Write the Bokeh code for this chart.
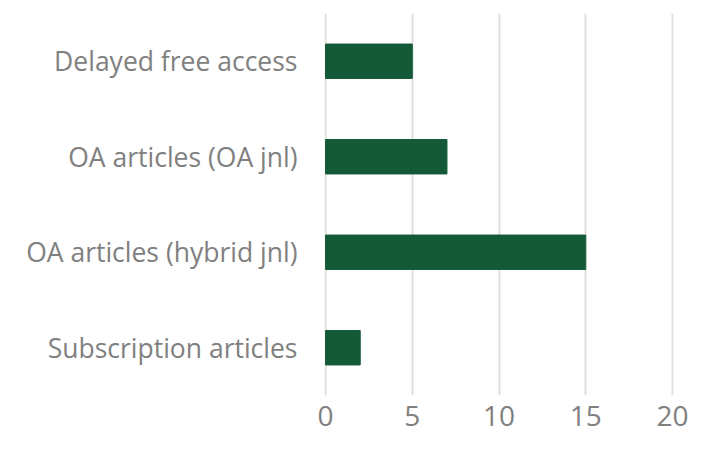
from bokeh.plotting import figure
from bokeh.models import Range1d, FactorRange, FixedTicker
from bokeh.embed import file_html
from bokeh.resources import INLINE

categories = ["Subscription articles", "OA articles (hybrid jnl)", "OA articles (OA jnl)", "Delayed free access"]
values = [2, 15, 7, 5]
x_ticks = [0, 5, 10, 15, 20]

p = figure(width=702, height=435, output_backend="svg", toolbar_location=None,
           y_range=FactorRange(*categories, range_padding=0),
           x_range=Range1d(-0.06, 20.06))
p.min_border_top = 13
p.min_border_right = 29
p.min_border_left = 324
p.min_border_bottom = 40
p.outline_line_color = None
p.background_fill_color = "white"
p.border_fill_color = "white"

p.hbar(y=categories, right=values, left=0, height=0.36, color="#145A38")

p.xaxis.ticker = FixedTicker(ticks=x_ticks)
p.xaxis.axis_line_color = None
p.xaxis.major_tick_line_color = None
p.xaxis.minor_tick_line_color = None
p.xaxis.major_label_text_font = "Open Sans"
p.xaxis.major_label_text_font_size = "28px"
p.xaxis.major_label_text_color = "#808080"
p.xaxis.major_label_standoff = 4

p.yaxis.axis_line_color = None
p.yaxis.major_tick_line_color = None
p.yaxis.minor_tick_line_color = None
p.yaxis.major_label_text_font = "Open Sans"
p.yaxis.major_label_text_font_size = "26.5px"
p.yaxis.major_label_text_color = "#808080"
p.yaxis.major_label_standoff = 21

p.xgrid.grid_line_color = "#dedede"
p.xgrid.grid_line_width = 2
p.ygrid.grid_line_color = None

open("out.html", "w").write(file_html(p, INLINE))
